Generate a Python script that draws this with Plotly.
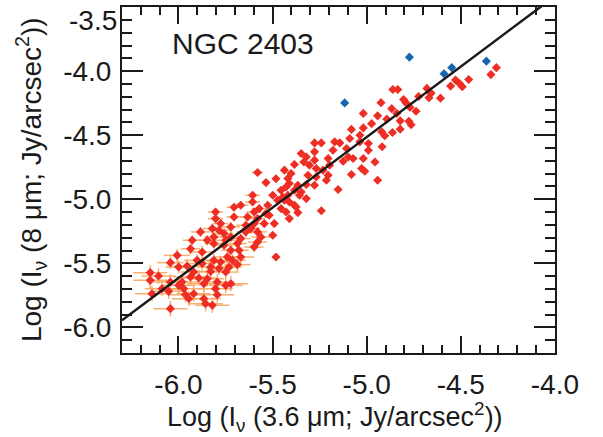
import plotly.graph_objects as go

# Bright regions (no visible error bars)
bright_x = [-4.311, -4.340, -4.458, -4.528, -4.507, -4.492, -4.554, -4.608, -4.680, -4.658,
            -4.669, -4.724, -4.861, -4.835, -4.804, -4.792, -4.924, -4.867, -4.770, -4.738,
            -4.942, -4.840, -4.893, -4.822, -4.776, -4.764, -4.974, -4.920, -4.904, -4.863,
            -4.822, -4.918, -5.018, -5.081, -5.018, -5.036, -5.277, -5.241, -5.170, -5.143,
            -5.090, -5.036, -4.991, -5.277, -5.179, -5.107, -5.098, -5.072, -4.991, -5.018,
            -4.956, -5.027, -5.010, -5.081, -5.125, -5.205, -5.197, -5.348, -5.321, -5.277,
            -5.304, -5.384, -5.437, -5.402, -5.419, -5.268, -5.232, -5.268, -5.312, -5.205,
            -5.214, -5.277, -5.321, -5.366, -5.428, -5.384, -5.357, -5.419, -5.446, -5.384,
            -5.428, -5.366, -5.241, -5.152, -4.942, -5.334, -5.411, -5.455, -5.499, -5.473,
            -5.526, -5.518, -5.491, -5.482, -5.348, -5.321, -5.535, -5.482, -5.437, -5.411,
            -5.375, -5.411, -5.455, -5.499, -5.535, -5.544]
bright_y = [-3.973, -4.027, -4.065, -4.070, -4.096, -4.121, -4.117, -4.211, -4.135, -4.172,
            -4.207, -4.198, -4.143, -4.143, -4.221, -4.246, -4.246, -4.293, -4.281, -4.313,
            -4.349, -4.330, -4.375, -4.388, -4.391, -4.418, -4.410, -4.474, -4.504, -4.479,
            -4.453, -4.590, -4.330, -4.455, -4.443, -4.500, -4.560, -4.560, -4.552, -4.560,
            -4.526, -4.552, -4.565, -4.630, -4.617, -4.604, -4.670, -4.682, -4.617, -4.682,
            -4.709, -4.760, -4.781, -4.807, -4.703, -4.682, -4.734, -4.643, -4.670, -4.695,
            -4.734, -4.729, -4.773, -4.799, -4.838, -4.760, -4.773, -4.826, -4.813, -4.813,
            -4.852, -4.891, -4.885, -4.891, -4.904, -4.930, -4.969, -4.969, -4.982, -5.047,
            -5.099, -5.104, -5.090, -4.924, -4.852, -4.709, -4.877, -4.930, -4.969, -5.008,
            -5.047, -5.125, -5.190, -5.451, -4.943, -4.995, -4.870, -4.840, -5.008, -5.021,
            -5.060, -5.151, -5.073, -5.281, -5.112, -5.190]

# Faint regions (with error bars)
faint_x = [-5.606, -5.606, -5.669, -5.705, -5.803, -5.803, -5.705, -5.776, -5.722, -5.642,
           -5.642, -5.580, -5.562, -5.687, -5.758, -5.812, -5.883, -5.927, -5.936, -6.007,
           -5.580, -5.633, -5.598, -5.571, -5.580, -5.598, -5.616, -5.580, -5.598, -5.669,
           -5.722, -5.785, -5.820, -5.847, -5.812, -5.758, -5.722, -5.678, -5.669, -5.740,
           -5.776, -5.812, -5.829, -5.731, -5.749, -5.874, -5.874, -5.687, -6.043, -5.999,
           -5.954, -5.901, -5.749, -5.713, -5.785, -5.829, -5.919, -5.936, -6.150, -6.106,
           -6.150, -6.043, -5.981, -5.999, -5.892, -5.847, -5.865, -5.794, -5.722, -5.749,
           -5.803, -6.088, -6.052, -6.141, -5.972, -5.963, -5.919, -5.945, -5.865, -5.856,
           -5.794, -5.820, -6.043]
faint_y = [-4.969, -5.021, -5.047, -5.063, -5.099, -5.151, -5.138, -5.190, -5.216, -5.203,
           -5.255, -5.255, -5.295, -5.346, -5.268, -5.295, -5.255, -5.320, -5.387, -5.438,
           -4.791, -5.138, -5.099, -5.073, -5.151, -5.190, -5.229, -5.334, -5.373, -5.307,
           -5.295, -5.242, -5.229, -5.320, -5.346, -5.359, -5.398, -5.398, -5.451, -5.451,
           -5.490, -5.477, -5.529, -5.529, -5.568, -5.412, -5.502, -5.510, -5.495, -5.529,
           -5.521, -5.477, -5.320, -5.477, -5.541, -5.563, -5.568, -5.607, -5.573, -5.599,
           -5.633, -5.646, -5.646, -5.672, -5.615, -5.620, -5.659, -5.646, -5.659, -5.672,
           -5.698, -5.698, -5.719, -5.737, -5.698, -5.745, -5.737, -5.776, -5.776, -5.815,
           -5.745, -5.828, -5.854]
faint_xerr = [0.04, 0.04, 0.04, 0.04, 0.04, 0.04, 0.04, 0.04, 0.05, 0.05,
              0.05, 0.05, 0.05, 0.05, 0.05, 0.05, 0.05, 0.05, 0.05, 0.07,
              0.03, 0.04, 0.04, 0.04, 0.04, 0.04, 0.05, 0.05, 0.05, 0.05,
              0.05, 0.05, 0.05, 0.05, 0.05, 0.05, 0.05, 0.05, 0.07, 0.07,
              0.07, 0.07, 0.07, 0.07, 0.07, 0.07, 0.07, 0.07, 0.07, 0.07,
              0.07, 0.07, 0.05, 0.07, 0.07, 0.07, 0.07, 0.09, 0.09, 0.09,
              0.09, 0.09, 0.09, 0.09, 0.09, 0.09, 0.09, 0.09, 0.09, 0.09,
              0.09, 0.09, 0.09, 0.09, 0.09, 0.09, 0.09, 0.09, 0.09, 0.09,
              0.09, 0.09, 0.09]
faint_yerr = [0.03, 0.03, 0.03, 0.03, 0.03, 0.03, 0.03, 0.03, 0.04, 0.04,
              0.04, 0.04, 0.04, 0.04, 0.04, 0.04, 0.04, 0.04, 0.04, 0.05,
              0.02, 0.03, 0.03, 0.03, 0.03, 0.03, 0.04, 0.04, 0.04, 0.04,
              0.04, 0.04, 0.04, 0.04, 0.04, 0.04, 0.04, 0.04, 0.05, 0.05,
              0.05, 0.05, 0.05, 0.05, 0.05, 0.05, 0.05, 0.05, 0.05, 0.05,
              0.05, 0.05, 0.04, 0.05, 0.05, 0.05, 0.05, 0.06, 0.06, 0.06,
              0.06, 0.06, 0.06, 0.06, 0.06, 0.06, 0.06, 0.06, 0.06, 0.06,
              0.06, 0.06, 0.06, 0.06, 0.06, 0.06, 0.06, 0.06, 0.06, 0.06,
              0.06, 0.06, 0.06]

# Excluded (blue) points
blue_x = [-5.117, -4.773, -4.589, -4.548, -4.364]
blue_y = [-4.248, -3.891, -4.021, -3.973, -3.922]

# Linear fit
fit_slope = 1.10
fit_intercept = 0.985
fit_x = [-6.3, -4.0]
fit_y = [fit_slope * v + fit_intercept for v in fit_x]

x_tick_vals = [-6.0, -5.5, -5.0, -4.5, -4.0]
x_tick_text = ["-6.0", "-5.5", "-5.0", "-4.5", "-4.0"]
y_tick_vals = [-6.0, -5.5, -5.0, -4.5, -4.0, -3.5]
y_tick_text = ["-6.0", "-5.5", "-5.0", "-4.5", "-4.0", "-3.5"]

RED = "#ee2e24"
BLUE = "#1565b0"
ORANGE = "rgba(247,160,85,0.85)"
INK = "#1a1a1a"
FONT = "Liberation Sans, Arial, Helvetica, sans-serif"
TICK_SIZE = 28

fig = go.Figure()
fig.add_trace(go.Scatter(
    x=faint_x, y=faint_y, mode="markers",
    marker=dict(symbol="diamond", size=7, color=RED),
    error_x=dict(type="data", array=faint_xerr, color=ORANGE, thickness=1.5, width=0),
    error_y=dict(type="data", array=faint_yerr, color=ORANGE, thickness=1.5, width=0),
    showlegend=False,
))
fig.add_trace(go.Scatter(
    x=bright_x, y=bright_y, mode="markers",
    marker=dict(symbol="diamond", size=7, color=RED),
    showlegend=False,
))
fig.add_trace(go.Scatter(
    x=blue_x, y=blue_y, mode="markers",
    marker=dict(symbol="diamond", size=7, color=BLUE),
    showlegend=False,
))
fig.add_trace(go.Scatter(
    x=fit_x, y=fit_y, mode="lines",
    line=dict(color=INK, width=2.5),
    showlegend=False,
))

fig.add_annotation(
    x=0.111, y=0.894, xref="paper", yref="paper", xanchor="left", yanchor="middle",
    text="NGC 2403", showarrow=False, font=dict(family=FONT, size=30, color=INK),
)
fig.add_annotation(
    x=0.493, y=-0.186, xref="paper", yref="paper", xanchor="center", yanchor="middle",
    text="Log (I<sub>ν</sub> (3.6 μm; Jy/arcsec<sup>2</sup>))", showarrow=False,
    font=dict(family=FONT, size=27, color=INK),
)
fig.add_annotation(
    x=-0.21, y=0.50, xref="paper", yref="paper", xanchor="center", yanchor="middle",
    text="Log (I<sub>ν</sub> (8 μm; Jy/arcsec<sup>2</sup>))", showarrow=False, textangle=-90,
    font=dict(family=FONT, size=28, color=INK),
)
# top y tick label, nudged down to stay inside the figure
fig.add_annotation(
    x=0, y=y_tick_vals[-1], xref="paper", yref="y", xanchor="right", yanchor="top",
    xshift=-3, yshift=4, text=y_tick_text[-1], showarrow=False,
    font=dict(family=FONT, size=TICK_SIZE, color=INK),
)

axis_common = dict(
    showgrid=False, zeroline=False, automargin=False,
    showline=True, linecolor=INK, linewidth=2,
    mirror="allticks", ticks="inside", tickwidth=2, tickcolor=INK,
    tickfont=dict(family=FONT, size=TICK_SIZE, color=INK),
)

fig.update_xaxes(
    range=[-6.3, -3.9995], tickmode="array", tickvals=x_tick_vals, ticktext=x_tick_text,
    ticklen=17, ticklabelstandoff=5,
    minor=dict(ticks="inside", ticklen=8, tickwidth=1.5, tickcolor=INK, dtick=0.1, tick0=-6.0),
    **axis_common,
)
fig.update_yaxes(
    range=[-6.2, -3.4995], tickmode="array", tickvals=y_tick_vals[:-1], ticktext=y_tick_text[:-1],
    ticklen=21, ticklabelstandoff=3,
    minor=dict(ticks="inside", ticklen=10, tickwidth=1.5, tickcolor=INK, dtick=0.1, tick0=-6.0),
    **axis_common,
)

fig.update_layout(
    width=603, height=437,
    margin=dict(l=122, r=48, t=7, b=84),
    plot_bgcolor="white", paper_bgcolor="white",
    font=dict(family=FONT, color=INK),
)

fig.write_html("out.html", config={"displayModeBar": False},
               post_script="document.body.style.margin='0px';")
